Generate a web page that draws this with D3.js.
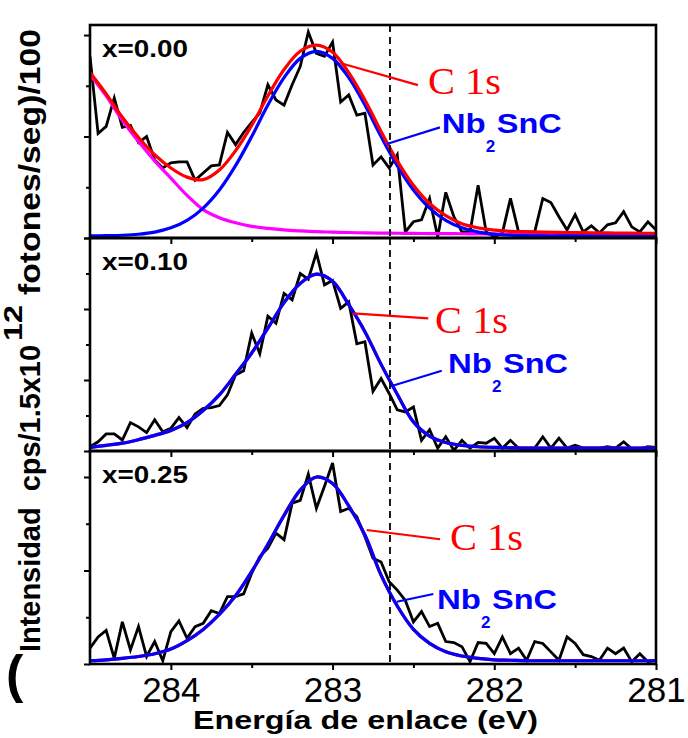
<!DOCTYPE html>
<html>
<head>
<meta charset="utf-8">
<script src="https://cdn.jsdelivr.net/npm/d3@7"></script>
<style>
  html, body { margin: 0; padding: 0; background: #fff; }
  svg { display: block; }
</style>
</head>
<body>
<svg id="chart" width="688" height="738"></svg>
<script>
// ---------------- DATA ----------------
const panelLabels = ["x=0.00", "x=0.10", "x=0.25"];
const xTickLabels = [284, 283, 282, 281];
const xMinorTicks = [283.5, 282.5, 281.5];
const dashedEnergy = 282.645;

// measured spectra, 0.05 eV step starting at 284.5 eV
const rawTop = [1.79,1.03,1.10,1.38,1.09,1.11,0.94,1.00,0.77,0.69,0.74,0.75,0.75,0.57,0.64,0.71,0.72,1.04,0.92,1.04,
  1.14,1.23,1.51,1.36,1.31,1.51,1.69,2.03,1.82,1.79,1.93,1.34,1.41,1.21,1.23,0.72,0.80,0.69,0.82,0.06,
  0.16,0.18,0.39,0.01,0.45,0.21,0.06,0.06,0.52,0.06,0.01,0.05,0.39,0.06,0.06,0.06,0.39,0.35,0.21,0.08,
  0.23,0.06,0.12,0.05,0.13,0.15,0.26,0.11,0.06,0.16,0.08];
const rawMid = [0.06,0.13,0.24,0.24,0.155,0.40,0.34,0.26,0.44,0.27,0.32,0.47,0.33,0.52,0.60,0.61,0.64,0.79,1.07,1.13,
  1.66,1.37,1.90,1.80,2.22,2.13,2.50,2.42,2.79,2.34,2.40,2.01,2.10,1.51,1.54,0.84,
  1.02,0.81,0.58,0.55,0.62,0.15,0.30,0.04,0.20,0.01,0.15,0.04,0.12,0.11,0.18,0.04,0.15,0.04,0.04,0.04,
  0.20,0.04,0.18,0.04,0.08,0.04,0.04,0.04,0.06,0.04,0.13,0.03,0.03,0.06,0.05];
const rawBot = [0.17,0.29,0.36,0.06,0.45,0.15,0.40,0.08,0.24,0.035,0.345,0.46,0.275,0.40,0.435,0.57,0.54,0.72,0.72,0.75,
  0.97,1.15,1.24,1.40,1.33,1.72,1.75,2.03,1.665,1.90,2.15,1.63,1.665,1.575,1.36,1.13,1.09,
  0.88,0.79,0.68,0.45,0.56,0.40,0.435,0.24,0.23,0.185,0.025,0.23,0.22,0.11,0.29,0.11,0.17,0.04,0.24,
  0.22,0.13,0.04,0.29,0.22,0.10,0.08,0.04,0.17,0.11,0.17,0.025,0.11,0.025,0.04];

// fitted components, read at 0.1 eV step starting at 284.5 eV
const fitTopBg = [1.61,1.40,1.16,0.95,0.76,0.59,0.42,0.28,0.20,0.15,0.115,0.095,0.08,0.07,0.062,0.058,0.054,0.05,0.048,0.047,
  0.045,0.044,0.043,0.042,0.041,0.04,0.039,0.038,0.037,0.036,0.035,0.034,0.033,0.032,0.031,0.03];
const fitTopNb = [0.02,0.023,0.027,0.037,0.058,0.10,0.174,0.295,0.473,0.713,1.00,1.31,1.58,1.77,1.84,1.77,1.58,1.31,1.00,0.713,
  0.473,0.295,0.174,0.10,0.058,0.037,0.027,0.023,0.02,0.02,0.02,0.02,0.02,0.02,0.02,0.02];
const fitTopSum = [1.63,1.42,1.19,0.99,0.82,0.69,0.60,0.575,0.67,0.86,1.11,1.40,1.66,1.84,1.90,1.83,1.63,1.36,1.05,0.76,
  0.52,0.34,0.22,0.14,0.10,0.077,0.066,0.061,0.057,0.055,0.053,0.051,0.05,0.048,0.047,0.045];
const fitMidNb = [0.05,0.08,0.11,0.16,0.22,0.29,0.40,0.57,0.79,1.08,1.38,1.73,2.09,2.36,2.49,2.39,2.06,1.68,1.22,0.80,
  0.41,0.21,0.12,0.08,0.06,0.05,0.045,0.04,0.04,0.04,0.04,0.04,0.04,0.04,0.04,0.04];
const fitBotNb = [0.035,0.045,0.06,0.08,0.11,0.16,0.25,0.37,0.53,0.73,0.99,1.28,1.59,1.86,2.00,1.93,1.69,1.38,0.95,0.62,
  0.37,0.22,0.13,0.085,0.06,0.045,0.04,0.035,0.035,0.035,0.035,0.035,0.035,0.035,0.035,0.035];

// ---------------- LAYOUT ----------------
const svg = d3.select("#chart");
const left = 90, right = 656;
const x = d3.scaleLinear().domain([284.5, 281.0]).range([left, right]);

const panels = [
  { top: 25,  bottom: 238, ymax: 2.099, major: [0,1,2], minor: [0.5,1.5],
    raw: rawTop, bg: fitTopBg, nb: fitTopNb, sum: fitTopSum,
    ann: { red: [[282.954,1.724],[282.472,1.507]], c1s: [282.41,1.419], blue: [[282.665,0.926],[282.336,1.09]], nbt: [282.325,1.034] } },
  { top: 238, bottom: 451, ymax: 3.0, major: [0,1,2,3], minor: [0.5,1.5,2.5],
    raw: rawMid, bg: null, nb: fitMidNb, sum: fitMidNb,
    ann: { red: [[282.872,1.939],[282.408,1.869]], c1s: [282.366,1.662], blue: [[282.634,0.915],[282.325,1.131]], nbt: [282.286,1.099] } },
  { top: 451, bottom: 664, ymax: 2.278, major: [0,1,2], minor: [0.5,1.5],
    raw: rawBot, bg: null, nb: fitBotNb, sum: fitBotNb,
    ann: { red: [[282.789,1.433],[282.335,1.334]], c1s: [282.274,1.219], blue: [[282.603,0.666],[282.377,0.749]], nbt: [282.354,0.588] } }
];

const defs = svg.append("defs");
const sans = "'Liberation Sans', Arial, sans-serif";

panels.forEach((p, k) => {
  const y = d3.scaleLinear().domain([0, p.ymax]).range([p.bottom, p.top]);
  const g = svg.append("g");
  const clipId = "clip" + k;
  defs.append("clipPath").attr("id", clipId)
    .append("rect").attr("x", left).attr("y", p.top).attr("width", right - left).attr("height", p.bottom - p.top);

  const plot = g.append("g").attr("clip-path", `url(#${clipId})`);

  const rawLine = d3.line().x((d, i) => x(284.5 - 0.05 * i)).y(d => y(d));
  const fitLine = d3.line().x((d, i) => x(284.5 - 0.1 * i)).y(d => y(d)).curve(d3.curveCatmullRom.alpha(0.5));

  plot.append("path").datum(p.raw).attr("d", rawLine)
    .attr("fill", "none").attr("stroke", "#000").attr("stroke-width", 2.8).attr("stroke-linejoin", "miter");

  if (p.bg) {
    plot.append("path").datum(p.bg).attr("d", fitLine)
      .attr("fill", "none").attr("stroke", "#ff00ff").attr("stroke-width", 3.2);
  }
  if (k === 0) {
    plot.append("path").datum(p.nb).attr("d", fitLine)
      .attr("fill", "none").attr("stroke", "#0000ff").attr("stroke-width", 3.2);
    plot.append("path").datum(p.sum).attr("d", fitLine)
      .attr("fill", "none").attr("stroke", "#ff0000").attr("stroke-width", 3.2);
  } else {
    plot.append("path").datum(p.sum).attr("d", fitLine)
      .attr("fill", "none").attr("stroke", "#ff0000").attr("stroke-width", 3.2);
    plot.append("path").datum(p.nb).attr("d", fitLine)
      .attr("fill", "none").attr("stroke", "#0000ff").attr("stroke-width", 3.2);
  }

  // dashed reference line
  g.append("line")
    .attr("x1", x(dashedEnergy)).attr("x2", x(dashedEnergy))
    .attr("y1", p.top).attr("y2", p.bottom)
    .attr("stroke", "#000").attr("stroke-width", 1.8).attr("stroke-dasharray", "7,5");

  // y axis ticks (no labels)
  const yMaj = d3.axisLeft(y).tickValues(p.major).tickSize(6).tickFormat("");
  const yMin = d3.axisLeft(y).tickValues(p.minor).tickSize(4).tickFormat("");
  [yMaj, yMin].forEach(ax => {
    const a = g.append("g").attr("transform", `translate(${left},0)`).call(ax);
    a.select(".domain").remove();
    a.selectAll("line").attr("stroke", "#000").attr("stroke-width", 2);
  });

  // x axis ticks
  const xMaj = d3.axisBottom(x).tickValues(xTickLabels).tickSize(6).tickFormat(k === 2 ? d3.format("d") : "");
  const xMin = d3.axisBottom(x).tickValues(xMinorTicks).tickSize(4).tickFormat("");
  [xMaj, xMin].forEach((ax, j) => {
    const a = g.append("g").attr("transform", `translate(0,${p.bottom})`).call(ax);
    a.select(".domain").remove();
    a.selectAll("line").attr("stroke", "#000").attr("stroke-width", 2);
    if (j === 0 && k === 2) {
      a.selectAll("text")
        .attr("font-family", sans)
        .attr("font-size", 35).attr("fill", "#000")
        .attr("dy", null).attr("y", 38);
    }
  });

  // frame
  g.append("rect").attr("x", left).attr("y", p.top)
    .attr("width", right - left).attr("height", p.bottom - p.top)
    .attr("fill", "none").attr("stroke", "#000").attr("stroke-width", 2.6);

  // panel label
  g.append("text").attr("x", left + 12).attr("y", p.top + 32)
    .attr("font-family", sans).attr("font-weight", "bold")
    .attr("font-size", 23).attr("textLength", 86).attr("lengthAdjust", "spacingAndGlyphs")
    .text(panelLabels[k]);

  // annotations
  const a = p.ann;
  g.append("line")
    .attr("x1", x(a.red[0][0])).attr("y1", y(a.red[0][1]))
    .attr("x2", x(a.red[1][0])).attr("y2", y(a.red[1][1]))
    .attr("stroke", "#ff0000").attr("stroke-width", 2.2);
  g.append("text").attr("x", x(a.c1s[0])).attr("y", y(a.c1s[1]))
    .attr("font-family", "'Liberation Serif', 'Times New Roman', serif")
    .attr("font-size", 37).attr("fill", "#ff0000")
    .attr("textLength", 73).attr("lengthAdjust", "spacingAndGlyphs")
    .text("C 1s");
  g.append("line")
    .attr("x1", x(a.blue[0][0])).attr("y1", y(a.blue[0][1]))
    .attr("x2", x(a.blue[1][0])).attr("y2", y(a.blue[1][1]))
    .attr("stroke", "#0000ff").attr("stroke-width", 2.2);
  const nx = x(a.nbt[0]), ny = y(a.nbt[1]);
  g.append("text").attr("x", nx).attr("y", ny)
    .attr("font-family", sans).attr("font-weight", "bold").attr("font-size", 28).attr("fill", "#0000ff")
    .attr("textLength", 44).attr("lengthAdjust", "spacingAndGlyphs").text("Nb");
  g.append("text").attr("x", nx + 44).attr("y", ny + 19)
    .attr("font-family", sans).attr("font-weight", "bold").attr("font-size", 17).attr("fill", "#0000ff")
    .text("2");
  g.append("text").attr("x", nx + 55).attr("y", ny)
    .attr("font-family", sans).attr("font-weight", "bold").attr("font-size", 28).attr("fill", "#0000ff")
    .attr("textLength", 65).attr("lengthAdjust", "spacingAndGlyphs").text("SnC");
});

// x axis title
svg.append("text").attr("x", 193).attr("y", 729)
  .attr("font-family", sans).attr("font-weight", "bold")
  .attr("font-size", 25).attr("textLength", 345).attr("lengthAdjust", "spacingAndGlyphs")
  .text("Energía de enlace (eV)");

// y axis title: upright opening bracket, then rotated text
svg.append("text").attr("x", 6).attr("y", 692)
  .attr("font-family", sans).attr("font-weight", "bold").attr("font-size", 52)
  .text("(");
const yt = svg.append("g").attr("transform", "translate(40,0) rotate(-90)");
yt.append("text").attr("x", -652).attr("y", 0)
  .attr("font-family", sans).attr("font-weight", "bold").attr("font-size", 29)
  .attr("textLength", 307).attr("lengthAdjust", "spacingAndGlyphs")
  .attr("xml:space", "preserve").text("Intensidad  cps/1.5x10");
yt.append("text").attr("x", -341).attr("y", -18)
  .attr("font-family", sans).attr("font-weight", "bold").attr("font-size", 25)
  .attr("textLength", 36).attr("lengthAdjust", "spacingAndGlyphs").text("12");
yt.append("text").attr("x", -295).attr("y", 0)
  .attr("font-family", sans).attr("font-weight", "bold").attr("font-size", 29)
  .attr("textLength", 266).attr("lengthAdjust", "spacingAndGlyphs").text("fotones/seg)/100");
</script>
</body>
</html>
